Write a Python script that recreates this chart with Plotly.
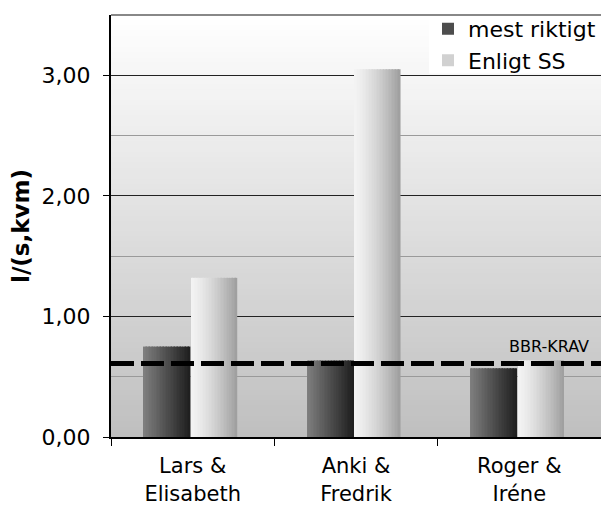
import plotly.graph_objects as go

# Data
categories = ["Lars &<br>Elisabeth", "Anki &<br>Fredrik", "Roger &<br>Iréne"]
mest_riktigt = [0.75, 0.635, 0.57]
enligt_ss = [1.32, 3.05, 0.635]
bbr_krav = 0.61
y_ticks = [0, 1, 2, 3]
y_max = 3.5

FONT = "DejaVu Sans"
N_STRIPS = 30


def grey(v):
    v = int(round(max(0, min(255, v))))
    return f"rgb({v},{v},{v})"


def add_gradient_bars(fig, name, values, offset, width, shade):
    """Draw one bar series as thin vertical strips to get a horizontal gradient."""
    step = width / N_STRIPS
    for i in range(N_STRIPS):
        t = (i + 0.5) / N_STRIPS
        fig.add_trace(go.Bar(
            x=categories,
            y=values,
            offset=[offset + i * step] * len(values),
            width=[step * 1.08] * len(values),
            marker=dict(color=grey(shade(t)), line=dict(width=0)),
            name=name,
            legendgroup=name,
            showlegend=(i == N_STRIPS // 2),
            hoverinfo="skip" if i != N_STRIPS // 2 else None,
        ))


fig = go.Figure()

add_gradient_bars(fig, "mest riktigt", mest_riktigt, -0.300, 0.285,
                  lambda t: 128 - (128 - 30) * t)
add_gradient_bars(fig, "Enligt SS", enligt_ss, -0.008, 0.280,
                  lambda t: 243 - (243 - 158) * t ** 1.4)

# Vertical gradient of the plot background (white at top, grey at bottom);
# the bands overlap so no seams show between them
shapes = []
n_bg = 80
for k in range(n_bg):
    y0 = k / n_bg
    y1 = min(1.0, (k + 2) / n_bg)
    t = (k + 0.5) / n_bg  # 0 at bottom
    shapes.append(dict(
        type="rect", xref="paper", yref="paper", x0=0, x1=1, y0=y0, y1=y1,
        fillcolor=grey(191 + (255 - 191) * t), line=dict(width=0), layer="below",
    ))

# White panel behind the legend, down to the top major gridline
shapes.append(dict(type="rect", xref="paper", yref="y", x0=0.649, x1=1,
                   y0=y_ticks[-1] + 0.015, y1=y_max,
                   fillcolor="white", line=dict(width=0), layer="between"))

# Top border of the plot area
shapes.append(dict(type="line", xref="paper", yref="paper", x0=0, x1=1, y0=1, y1=1,
                   line=dict(color="#888888", width=2), layer="above"))

# Requirement line
shapes.append(dict(type="line", xref="paper", yref="y", x0=0, x1=1,
                   y0=bbr_krav, y1=bbr_krav,
                   line=dict(color="black", width=5, dash="23px,7px"), layer="above"))

fig.update_layout(
    width=601, height=507,
    margin=dict(l=111, r=0, t=15, b=70),
    paper_bgcolor="white",
    plot_bgcolor="rgba(0,0,0,0)",
    barmode="overlay",
    separators=", ",
    font=dict(family=FONT, size=22, color="black"),
    shapes=shapes,
    showlegend=True,
    legend=dict(
        x=1, xanchor="right", y=1.017, yanchor="top",
        bgcolor="rgba(0,0,0,0)", borderwidth=0,
        font=dict(family=FONT, size=22, color="black"),
        itemwidth=30, tracegroupgap=0,
    ),
    annotations=[dict(
        text="BBR-KRAV", xref="paper", yref="y", x=0.98, y=bbr_krav,
        xanchor="right", yanchor="bottom", yshift=5, showarrow=False,
        font=dict(family=FONT, size=16, color="black"),
    )],
)

fig.update_xaxes(
    type="category",
    automargin=False,
    showline=True, linecolor="black", linewidth=2,
    ticks="outside", tickson="boundaries", ticklen=7, tickcolor="black",
    tickfont=dict(family=FONT, size=21),
    ticklabelstandoff=9,
    showgrid=False,
    range=[-0.5, 2.5],
)

fig.update_yaxes(
    range=[0, y_max],
    automargin=False,
    tickvals=y_ticks,
    tickformat=".2f",
    showline=True, linecolor="black", linewidth=2,
    ticks="outside", ticklen=6, tickcolor="black",
    tickfont=dict(family=FONT, size=22),
    ticklabelstandoff=8,
    showgrid=True, gridcolor="#222222", gridwidth=1,
    minor=dict(dtick=0.5, showgrid=True, gridcolor="#9a9a9a", gridwidth=1, ticks=""),
    zeroline=False,
    title=dict(text="<b>l/(s,kvm)</b>", font=dict(family=FONT, size=23), standoff=6),
)

fig.write_html("out.html")
